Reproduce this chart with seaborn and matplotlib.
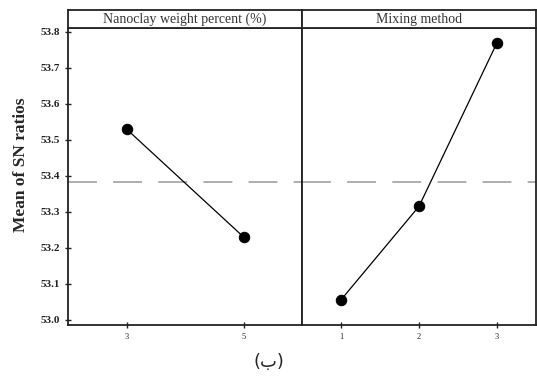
import matplotlib
matplotlib.use("Agg")
import matplotlib.pyplot as plt
import seaborn as sns
import pandas as pd

# data
nanoclay_levels = [3, 5]
nanoclay_sn = [53.53, 53.23]
mixing_levels = [1, 2, 3]
mixing_sn = [53.055, 53.315, 53.77]
overall_mean = 53.383
panel_titles = ["Nanoclay weight percent (%)", "Mixing method"]
y_ticks = [53.0, 53.1, 53.2, 53.3, 53.4, 53.5, 53.6, 53.7, 53.8]

sns.set_style("white")
plt.rcParams['font.family'] = ['Liberation Serif', 'DejaVu Sans']

fig = plt.figure(figsize=(5.37, 3.76), dpi=100)
left, right = 68 / 537, 536 / 537
bottom, top = 1 - 325 / 376, 1 - 28 / 376
head_h = 18 / 376
w = (right - left) / 2

ax1 = fig.add_axes([left, bottom, w, top - bottom])
ax2 = fig.add_axes([left + w, bottom, w, top - bottom], sharey=ax1)

df1 = pd.DataFrame({"level": nanoclay_levels, "sn": nanoclay_sn})
df2 = pd.DataFrame({"level": mixing_levels, "sn": mixing_sn})

for ax, df in [(ax1, df1), (ax2, df2)]:
    sns.lineplot(data=df, x="level", y="sn", ax=ax, color="black", lw=0.9,
                 marker="o", markersize=7.5, markeredgecolor="black")
    ax.axhline(overall_mean, color="#a8a8a8", lw=1.3, ls=(0, (16, 9)), zorder=0)
    ax.set_xlabel("")
    ax.set_ylabel("")
    for s in ax.spines.values():
        s.set_linewidth(1.3)
        s.set_color("#222222")
    ax.tick_params(bottom=True, left=True, direction="inout", length=5, width=1,
                   labelsize=6, colors="#222222")

ax1.set_xlim(2, 6)
ax1.set_xticks(nanoclay_levels)
ax2.set_xlim(0.5, 3.5)
ax2.set_xticks(mixing_levels)
ax1.set_ylim(52.985, 53.811)
ax1.set_yticks(y_ticks)
ax1.set_yticklabels([f"{v:.1f}" for v in y_ticks], fontsize=8, fontweight="bold")
ax2.tick_params(axis="y", left=False, labelleft=False)
ax1.set_ylabel("Mean of SN ratios", fontsize=12.5, fontweight="bold")
ax1.yaxis.set_label_coords(-0.165, 0.54)

# header strips
for i, title in enumerate(panel_titles):
    hx = fig.add_axes([left + i * w, top, w, head_h])
    hx.set_xticks([])
    hx.set_yticks([])
    for s in hx.spines.values():
        s.set_linewidth(1.3)
        s.set_color("#222222")
    hx.text(0.5, 0.5, title, ha="center", va="center", fontsize=10,
            color="#333333", transform=hx.transAxes)

fig.text(0.5, 1 - 362 / 376, "(ب)", ha="center", va="center", fontsize=13,
         family=["DejaVu Sans"])

fig.savefig("out.png", dpi=100)
